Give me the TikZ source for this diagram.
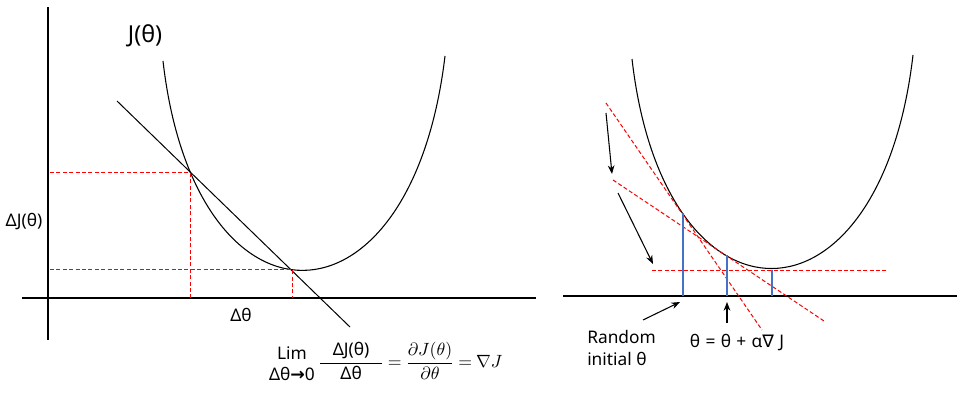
\documentclass[tikz,border=0pt]{standalone}
\usepackage{amsmath}
\usepackage{fontspec}
\setmainfont{Noto Sans}
\newfontfamily\dv{DejaVu Sans}
\usetikzlibrary{arrows.meta}
\definecolor{guidered}{RGB}{255,0,0}
\definecolor{stepblue}{RGB}{68,114,196}
\begin{document}
\begin{tikzpicture}[x=0.75pt,y=-0.75pt,
  axis/.style={line width=1pt},
  curve/.style={line width=0.8pt},
  thinline/.style={line width=0.75pt},
  guide/.style={guidered, dash pattern=on 3pt off 1.8pt, line width=0.75pt},
  stepline/.style={stepblue, line width=0.8pt},
  pointer/.style={line width=0.8pt, -{Stealth[length=6.5pt,width=5pt]}},
  lab/.style={inner sep=0pt, font=\fontsize{13}{16}\selectfont},
  biglab/.style={inner sep=0pt, font=\fontsize{17.5}{20}\selectfont}]
\useasboundingbox (0,0) rectangle (963,397);

% ---------- left panel ----------
\coordinate (yTop) at (48,7);
\coordinate (yBot) at (48,340);
\coordinate (xL) at (22,298);
\coordinate (xR) at (536,298);
\draw[axis] (yTop) -- (yBot);
\draw[axis] (xL) -- (xR);

\draw[curve] (163,61) .. controls (195,341) and (411,341) .. (445,56);
\coordinate (secA) at (117,101);
\coordinate (secB) at (350,327);
\draw[thinline] (secA) -- (secB);

\coordinate (p1) at (190,172);
\coordinate (p2) at (292,269);
\draw[guide] (50,172) -- (p1) -- (190,298);
\draw[guide] (50,269) -- (p2) -- (292,298);

\node[biglab] (jlabel) at (145,36) {J(θ)};
\node[lab] (djlabel) at (24,222) {ΔJ(θ)};
\node[lab] (dtlabel) at (241,315) {Δθ};
\node[lab, align=center] (lim) at (292,364) {Lim\\Δθ{\dv\bfseries →}0};
\node[inner sep=0pt, anchor=west, font=\normalsize] (eq) at (318,361)
  {\scalebox{1.33}{\thickmuskip=4mu plus 2mu$\dfrac{\hspace{7pt}\text{\fontsize{9.8}{11}\selectfont ΔJ(θ)}\hspace{7pt}}{\text{\fontsize{9.8}{11}\selectfont Δθ}}
   = \dfrac{\partial J(\theta)}{\partial\theta} = \nabla J$}};

% ---------- right panel ----------
\coordinate (xL2) at (563,296);
\coordinate (xR2) at (957,296);
\draw[axis] (xL2) -- (xR2);

\draw[curve] (632,59) .. controls (664,339) and (880,339) .. (913,55);

\draw[guide] (606,103) -- (762,330);
\draw[guide] (613,180) -- (824,321);
\draw[guide] (652,270) -- (887,270);

\draw[stepline] (683,213) -- (683,296);
\draw[stepline] (727,255) -- (727,296);
\draw[stepline] (772,270) -- (772,296);

\coordinate (a1s) at (606,113); \coordinate (a1e) at (612,174);
\coordinate (a2s) at (618,193); \coordinate (a2e) at (653,264);
\coordinate (a3s) at (643,320); \coordinate (a3e) at (680,302);
\coordinate (a4s) at (727,323); \coordinate (a4e) at (727,302);
\draw[pointer] (a1s) -- (a1e);
\draw[pointer] (a2s) -- (a2e);
\draw[pointer] (a3s) -- (a3e);
\draw[pointer] (a4s) -- (a4e);

\node[lab, align=left, anchor=west] (rand) at (587,348) {Random\\initial θ};
\node[lab] (update) at (737,343) {θ\hspace{4pt}=\hspace{4pt}θ\hspace{4pt}+\hspace{4pt}α{\dv ∇}\hspace{4pt}J};
\end{tikzpicture}
\end{document}
